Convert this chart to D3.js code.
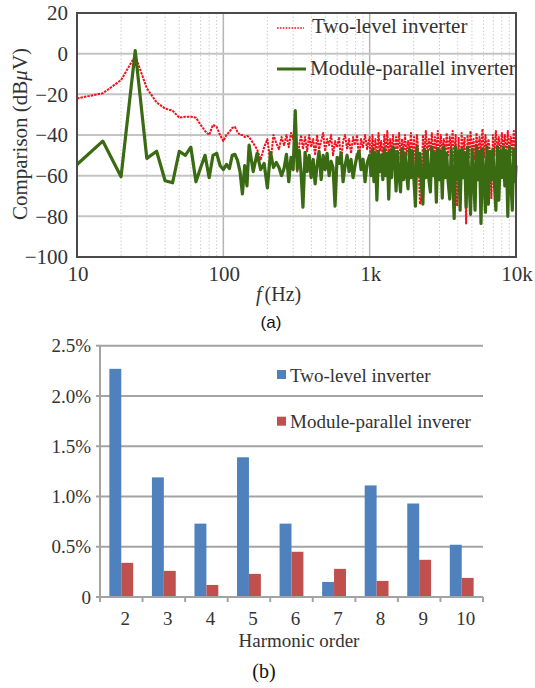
<!DOCTYPE html>
<html><head><meta charset="utf-8">
<script src="https://cdn.jsdelivr.net/npm/d3@7"></script>
<style>
body{margin:0;background:#fff}svg{display:block}
.sf{font-family:"Liberation Serif","Times New Roman",Times,serif}
.ss{font-family:"Liberation Sans",Arial,sans-serif}
</style>
</head><body><svg id="c" width="535" height="688"></svg>
<script>
// ---------- Chart (a): spectrum ----------
const freqHz = [10,15,20,25,30,35,40,45,50,55,60,65,70,75,80,85,90,95,100,105,110,115,120,125,130,135,140,145,
150,160,170,180,190,200,210,220,230,240,250,260,270,280,290,
300,310,320,330,340,350,362,374,386,398,411,424,437,451,466,481,496,512,528,545,562,580,599,618,638,658,679,701,723,746,770,795,820,846,873,901,930,960,
1000,1020,1045,1070,1095,1120,1150,1175,1200,1230,1260,1290,1320,1350,1380,1410,1445,1480,1515,1550,1590,1625,1665,1705,1745,1785,1830,1870,1915,1960,
2010,2055,2105,2155,2205,2260,2310,2365,2420,2480,2540,2600,2660,2725,2790,2855,2920,2990,3060,3135,3210,3285,3360,3440,3525,3605,3690,3780,3870,3960,
4055,4150,4250,4350,4455,4560,4665,4780,4890,5010,5125,5250,5370,5500,5630,5765,5900,6040,6185,6330,6480,6635,6790,6955,7120,7285,7460,7635,7820,8005,
8195,8390,8590,8790,9000,9215,9435,9660,9890,10000];

const twoLevelDb = [-22,-19.5,-13,-1,-17,-24,-27,-28,-31.5,-31,-31,-31.5,-35,-38,-40,-35,-36,-40,-43,-40,-38.5,-36.5,-36,-38.5,-40,-40,-41,-40.5,
-41,-44,-47,-52,-46,-42,-54,-40,-44,-47,-41,-45,-40,-46,-39,
-42,-31,-58,-45,-40,-47,-41,-48,-40,-46,-42,-50,-40,-47,-43,-39,-48,-42,-45,-40,-50,-43,-46,-41,-53,-43,-40,-47,-42,-49,-41,-45,-40,-52,-42,-46,-40,-47,
-41,-58,-40,-50,-42,-52,-39,-48,-43,-53,-40,-49,-38,-51,-42,-48,-40,-54,-41,-47,-39,-52,-42,-49,-40,-50,-43,-48,-39,-52,
-41,-55,-40,-49,-74,-71,-40,-50,-38,-51,-42,-48,-39,-53,-41,-49,-38,-52,-40,-48,-42,-51,-39,-50,-41,-47,-38,-53,-40,-75,
-41,-71.5,-39,-50,-41,-83.5,-40,-51,-38,-49,-42,-52,-39,-50,-41,-48,-37,-51,-40,-49,-42,-48,-71.5,-40,-50,-38,-49,-41,-52,-39,
-48,-40,-51,-38,-49,-41,-50,-38,-47,-42];

const moduleParallelDb = [-54.5,-43,-60.5,1.5,-51.5,-48,-62.5,-63.5,-48,-50,-46,-63,-56,-50,-61,-50,-49,-55,-57,-54.5,-56.5,-50,-49.5,-52.5,-58,-69,-55,-65,
-45,-58,-49,-57,-54,-66,-48.5,-56,-53.5,-56,-60,-56.5,-49.5,-63,-51,
-57,-28,-57,-47.5,-59,-75.5,-48.5,-58,-50,-61,-52,-64,-55,-48,-62,-50,-57,-49,-60,-53,-56,-75,-51,-54,-49,-63,-55,-50,-58,-52,-61,-55,-50,-48,-57,-52,-63,-54,
-50,-60,-47,-63,-49,-72,-48,-58,-50,-62,-47,-60,-49,-71.5,-48,-61,-46,-50,-67.5,-48,-60,-68,-47,-62,-49,-59,-66.5,-47,-61,-48,
-63,-75,-46,-60,-49,-64,-74,-47,-61,-48,-62,-68,-46,-60,-49,-73,-47,-62,-48,-71,-46,-61,-49,-63,-71.5,-47,-60,-81,-46,-62,
-48,-77,-47,-61,-49,-75.5,-46,-63,-79,-47,-60,-77,-46,-62,-48,-83.5,-47,-61,-78,-46,-74,-48,-62,-47,-64,-77,-46,-72,-48,-61,
-46,-65,-48,-80,-46,-62,-77,-47,-63,-55];

const freqTicks = [10, 100, 1000, 10000];
const freqTickLabels = ["10", "100", "1k", "10k"];
const dbTicks = [-100, -80, -60, -40, -20, 0, 20];
const seriesNamesA = ["Two-level inverter", "Module-parallel inverter"];

// ---------- Chart (b): harmonics ----------
const harmonicOrders = ["2","3","4","5","6","7","8","9","10"];
const twoLevelPct = [2.27, 1.19, 0.73, 1.39, 0.73, 0.15, 1.11, 0.93, 0.52];
const moduleParallelPct = [0.34, 0.26, 0.12, 0.23, 0.45, 0.28, 0.16, 0.37, 0.19];
const pctTicks = [0, 0.5, 1, 1.5, 2, 2.5];
const pctTickLabels = ["0", "0.5%", "1.0%", "1.5%", "2.0%", "2.5%"];
const seriesNamesB = ["Two-level inverter", "Module-parallel inverer"];

const textCol = "#333";
const svg = d3.select("#c");
const RED = "#f2101c", GREEN = "#3a6a12";

// ===== Chart (a) =====
const A = {l: 77, r: 516, t: 13, b: 257};
const xA = d3.scaleLog().domain([10, 10000]).range([A.l, A.r]);
const yA = d3.scaleLinear().domain([-100, 20]).range([A.b, A.t]);
const gA = svg.append("g").attr("class", "sf");

gA.selectAll("line.minor").data(xA.ticks().filter(v => !freqTicks.includes(v)))
  .join("line").attr("class", "minor")
  .attr("x1", d => xA(d)).attr("x2", d => xA(d)).attr("y1", A.t).attr("y2", A.b)
  .attr("stroke", "#cfcfcf").attr("stroke-width", 1).attr("stroke-dasharray", "1.5,2");
gA.selectAll("line.majv").data(freqTicks.slice(1, -1))
  .join("line").attr("class", "majv")
  .attr("x1", d => xA(d)).attr("x2", d => xA(d)).attr("y1", A.t).attr("y2", A.b)
  .attr("stroke", "#b4b4b4").attr("stroke-width", 1.5);
gA.selectAll("line.majh").data(dbTicks.slice(1, -1))
  .join("line").attr("class", "majh")
  .attr("x1", A.l).attr("x2", A.r).attr("y1", d => yA(d)).attr("y2", d => yA(d))
  .attr("stroke", "#c4c4c4").attr("stroke-width", 2);

const lineA = (vals) => d3.line().x((d, i) => xA(freqHz[i])).y(d => yA(d))(vals);
gA.append("path").attr("d", lineA(twoLevelDb))
  .attr("fill", "none").attr("stroke", RED).attr("stroke-width", 2)
  .attr("stroke-dasharray", "2.5,1").attr("stroke-linejoin", "round");
gA.append("path").attr("d", lineA(moduleParallelDb))
  .attr("fill", "none").attr("stroke", GREEN).attr("stroke-width", 3.2)
  .attr("stroke-linejoin", "round");

gA.append("rect").attr("x", A.l).attr("y", A.t).attr("width", A.r - A.l).attr("height", A.b - A.t)
  .attr("fill", "none").attr("stroke", "#4a4a4a").attr("stroke-width", 2);

gA.selectAll("text.yt").data(dbTicks).join("text").attr("class", "yt")
  .attr("x", 68).attr("y", d => yA(d)).attr("dy", "0.35em").attr("text-anchor", "end")
  .attr("font-size", 21).attr("fill", textCol)
  .text(d => d < 0 ? "\u2212" + Math.abs(d) : String(d));
gA.selectAll("text.xt").data(freqTicks).join("text").attr("class", "xt")
  .attr("x", d => xA(d) + 1).attr("y", 281).attr("text-anchor", "middle")
  .attr("font-size", 21).attr("fill", textCol)
  .text((d, i) => freqTickLabels[i]);
const yt = gA.append("text").attr("transform", "translate(27,134) rotate(-90)")
  .attr("text-anchor", "middle").attr("font-size", 21).attr("fill", textCol);
yt.append("tspan").text("Comparison (dB");
yt.append("tspan").attr("font-style", "italic").text("\u03bc");
yt.append("tspan").text("V)");
const xt = gA.append("text").attr("x", 256).attr("y", 301)
  .attr("font-size", 20).attr("fill", textCol);
xt.append("tspan").attr("font-style", "italic").text("f");
xt.append("tspan").attr("dx", 3).text("(Hz)");
gA.append("line").attr("x1", 277).attr("x2", 304).attr("y1", 28).attr("y2", 28)
  .attr("stroke", RED).attr("stroke-width", 1.4).attr("stroke-dasharray", "1.6,1.3");
gA.append("text").attr("x", 312).attr("y", 33).attr("font-size", 21)
  .attr("fill", textCol).text(seriesNamesA[0]);
gA.append("line").attr("x1", 277).attr("x2", 306).attr("y1", 69).attr("y2", 69)
  .attr("stroke", GREEN).attr("stroke-width", 3);
gA.append("text").attr("x", 310).attr("y", 75).attr("font-size", 21)
  .attr("fill", textCol).text(seriesNamesA[1]);
svg.append("text").attr("class", "ss").attr("x", 271).attr("y", 328).attr("text-anchor", "middle")
  .attr("font-size", 17).attr("fill", "#111").text("(a)");

// ===== Chart (b) =====
const B = {l: 100, r: 483, t: 345.7, b: 597};
const xB = d3.scaleBand().domain(harmonicOrders).range([B.l, B.r]).paddingInner(0.44).paddingOuter(0.22);
const xSub = d3.scaleBand().domain([0, 1]).range([0, xB.bandwidth()]);
const yB = d3.scaleLinear().domain([0, 2.5]).range([B.b, B.t]);
const gB = svg.append("g").attr("class", "sf");
const gridCol = "#a3a3a3";

gB.selectAll("line.gh").data(pctTicks.slice(1)).join("line").attr("class", "gh")
  .attr("x1", B.l).attr("x2", B.r).attr("y1", d => yB(d)).attr("y2", d => yB(d))
  .attr("stroke", gridCol).attr("stroke-width", 2);

const seriesB = [twoLevelPct, moduleParallelPct];
const colB = ["#4f81bd", "#c0504d"];
seriesB.forEach((vals, s) => {
  gB.selectAll("rect.s" + s).data(vals).join("rect").attr("class", "s" + s)
    .attr("x", (d, i) => xB(harmonicOrders[i]) + xSub(s))
    .attr("width", xSub.bandwidth())
    .attr("y", d => yB(d)).attr("height", d => yB(0) - yB(d))
    .attr("fill", colB[s]);
});

gB.append("line").attr("x1", B.l).attr("x2", B.l).attr("y1", B.t).attr("y2", B.b)
  .attr("stroke", gridCol).attr("stroke-width", 2);
gB.append("line").attr("x1", B.l - 4).attr("x2", B.r).attr("y1", B.b).attr("y2", B.b)
  .attr("stroke", gridCol).attr("stroke-width", 2);
gB.selectAll("line.yk").data(pctTicks).join("line").attr("class", "yk")
  .attr("x1", B.l - 4).attr("x2", B.l).attr("y1", d => yB(d)).attr("y2", d => yB(d))
  .attr("stroke", gridCol).attr("stroke-width", 2);
const tickXs = d3.range(harmonicOrders.length + 1).map(k => B.l + k * (B.r - B.l) / harmonicOrders.length);
gB.selectAll("line.xk").data(tickXs).join("line").attr("class", "xk")
  .attr("x1", d => d).attr("x2", d => d).attr("y1", B.b).attr("y2", B.b + 5)
  .attr("stroke", gridCol).attr("stroke-width", 2);

gB.selectAll("text.yl").data(pctTicks).join("text").attr("class", "yl")
  .attr("x", 91).attr("y", d => yB(d)).attr("dy", "0.35em").attr("text-anchor", "end")
  .attr("font-size", 19).attr("fill", textCol)
  .text((d, i) => pctTickLabels[i]);
gB.selectAll("text.xl").data(harmonicOrders).join("text").attr("class", "xl")
  .attr("x", d => xB(d) + xB.bandwidth() / 2 + 4).attr("y", 625).attr("text-anchor", "middle")
  .attr("font-size", 19).attr("fill", textCol).text(d => d);
gB.append("text").attr("x", 299).attr("y", 647).attr("text-anchor", "middle")
  .attr("font-size", 19).attr("fill", textCol).text("Harmonic order");
gB.append("text").attr("x", 264).attr("y", 678).attr("text-anchor", "middle")
  .attr("font-size", 20).attr("fill", "#111").text("(b)");

[370, 416.7].forEach((yy, s) => {
  gB.append("rect").attr("x", 277).attr("y", yy).attr("width", 9).attr("height", 9).attr("fill", colB[s]);
  gB.append("text").attr("x", 290).attr("y", yy + 11.5).attr("font-size", 19)
    .attr("fill", textCol).text(seriesNamesB[s]);
});
</script></body></html>
